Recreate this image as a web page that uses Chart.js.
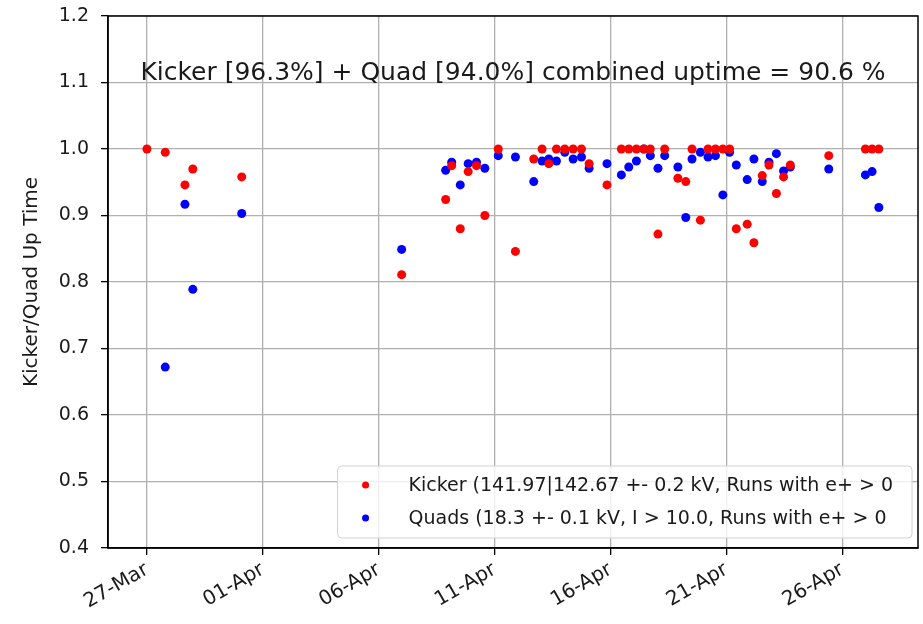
<!DOCTYPE html>
<html>
<head>
<meta charset="utf-8">
<script src="https://cdn.jsdelivr.net/npm/chart.js@4.4.1/dist/chart.umd.min.js"></script>
<style>
  html, body { margin: 0; padding: 0; background: #fff; }
  #wrap { width: 923px; height: 624px; position: relative; }
</style>
</head>
<body>
<div id="wrap"><canvas id="c" width="923" height="624"></canvas></div>
<script>
// ---- data (days counted from 27-Mar) ----
const tickDays = [0, 5, 10, 15, 20, 25, 30];
const tickLabels = ['27-Mar', '01-Apr', '06-Apr', '11-Apr', '16-Apr', '21-Apr', '26-Apr'];
const yTicks = [0.4, 0.5, 0.6, 0.7, 0.8, 0.9, 1.0, 1.1, 1.2];

const kickerDays = [0, 0.79, 1.64, 1.98, 4.09, 10.99, 12.89, 13.15, 13.52, 13.86, 14.22, 14.58, 15.16, 15.90,
  16.69, 17.05, 17.34, 17.67, 18.03, 18.39, 18.75, 19.08, 19.85, 20.47, 20.79, 21.12, 21.44, 21.72, 22.05,
  22.34, 22.91, 23.25, 23.52, 23.88, 24.21, 24.53, 24.85, 25.14, 25.43, 25.90, 26.19, 26.55, 26.84, 27.16,
  27.47, 27.76, 29.42, 31.00, 31.29, 31.58];
const kickerUptime = [1.0, 0.995, 0.946, 0.970, 0.958, 0.811, 0.924, 0.975, 0.880, 0.966, 0.975, 0.900, 1.0, 0.846,
  0.985, 1.0, 0.978, 1.0, 1.0, 1.0, 1.0, 0.978, 0.946, 1.0, 1.0, 1.0, 1.0, 1.0, 0.872,
  1.0, 0.956, 0.951, 1.0, 0.893, 1.0, 1.0, 1.0, 1.0, 0.880, 0.887, 0.859, 0.960, 0.976, 0.933,
  0.958, 0.976, 0.990, 1.0, 1.0, 1.0];

const quadDays = [0.79, 1.64, 1.98, 4.09, 10.99, 12.89, 13.15, 13.52, 13.86, 14.22, 14.58, 15.16, 15.90,
  16.69, 17.05, 17.34, 17.67, 18.03, 18.39, 18.75, 19.08, 19.85, 20.47, 20.79, 21.12, 21.44, 21.72, 22.05,
  22.34, 22.91, 23.25, 23.52, 23.88, 24.21, 24.53, 24.85, 25.14, 25.43, 25.90, 26.19, 26.55, 26.84, 27.16,
  27.47, 27.76, 29.42, 31.00, 31.29, 31.58];
const quadUptime = [0.672, 0.917, 0.789, 0.903, 0.849, 0.968, 0.980, 0.946, 0.978, 0.980, 0.971, 0.990, 0.988,
  0.951, 0.982, 0.985, 0.982, 0.995, 0.985, 0.988, 0.971, 0.978, 0.961, 0.973, 0.982, 1.0, 0.990, 0.971,
  0.990, 0.973, 0.897, 0.985, 0.995, 0.988, 0.990, 0.931, 0.995, 0.976, 0.954, 0.985, 0.951, 0.980, 0.993,
  0.967, 0.973, 0.970, 0.961, 0.966, 0.912];

const seriesLabels = [
  'Kicker (141.97|142.67 +- 0.2 kV, Runs with e+ > 0',
  'Quads (18.3 +- 0.1 kV, I > 10.0, Runs with e+ > 0'
];
const seriesColors = ['#ff0000', '#0000ff'];
const annotationText = 'Kicker [96.3%] + Quad [94.0%] combined uptime = 90.6 %';
const annotationLevel = 1.113;
const yTitle = 'Kicker/Quad Up Time';

const FONT = '"DejaVu Sans", sans-serif';
const TEXT = '#1a1a1a';

function toPoints(xs, ys) { return xs.map((x, i) => ({ x: x, y: ys[i] })); }

const overlay = {
  id: 'overlay',
  afterDraw(chart) {
    const ctx = chart.ctx;
    const a = chart.chartArea;
    // frame
    ctx.save();
    ctx.strokeStyle = '#000';
    ctx.lineWidth = 1.5;
    ctx.strokeRect(a.left, a.top, a.right - a.left, a.bottom - a.top);
    // annotation
    ctx.fillStyle = TEXT;
    ctx.font = '25px ' + FONT;
    ctx.textAlign = 'center';
    ctx.textBaseline = 'middle';
    ctx.fillText(annotationText, (a.left + a.right) / 2, chart.scales.y.getPixelForValue(annotationLevel));
    // legend
    ctx.font = '19px ' + FONT;
    const maxW = Math.max(...seriesLabels.map(t => ctx.measureText(t).width));
    const right = a.right - 6;
    const left = right - (71 + maxW + 19);
    const bottom = a.bottom - 10;
    const top = bottom - 72;
    ctx.beginPath();
    ctx.roundRect(left, top, right - left, bottom - top, 4);
    ctx.fillStyle = 'rgba(255,255,255,0.8)';
    ctx.fill();
    ctx.strokeStyle = '#d0d0d0';
    ctx.lineWidth = 1;
    ctx.stroke();
    seriesLabels.forEach((t, i) => {
      const cy = top + 19 + i * 33;
      ctx.beginPath();
      ctx.arc(left + 28, cy, 3.5, 0, Math.PI * 2);
      ctx.fillStyle = seriesColors[i];
      ctx.fill();
      ctx.fillStyle = TEXT;
      ctx.textAlign = 'left';
      ctx.textBaseline = 'middle';
      ctx.fillText(t, left + 71, cy + 1);
    });
    ctx.restore();
  }
};

new Chart(document.getElementById('c'), {
  type: 'scatter',
  data: {
    datasets: [
      { label: seriesLabels[0], data: toPoints(kickerDays, kickerUptime), backgroundColor: seriesColors[0],
        borderColor: seriesColors[0], pointRadius: 4.5, pointBorderWidth: 0, pointHoverRadius: 4.5 },
      { label: seriesLabels[1], data: toPoints(quadDays, quadUptime), backgroundColor: seriesColors[1],
        borderColor: seriesColors[1], pointRadius: 4.5, pointBorderWidth: 0, pointHoverRadius: 4.5 }
    ]
  },
  options: {
    responsive: false,
    animation: false,
    events: [],
    layout: { padding: { top: 16, right: 5, left: 0, bottom: 0 } },
    plugins: { legend: { display: false }, tooltip: { enabled: false } },
    scales: {
      x: {
        type: 'linear',
        min: -1.68,
        max: 33.27,
        afterBuildTicks(scale) { scale.ticks = tickDays.map(v => ({ value: v })); },
        afterFit(scale) { scale.height = 76; scale.paddingLeft = 0; scale.paddingRight = 0; },
        ticks: {
          minRotation: 30, maxRotation: 30,
          padding: 3,
          color: TEXT,
          font: { family: FONT, size: 20 },
          callback(v) { const i = tickDays.indexOf(v); return i >= 0 ? tickLabels[i] : ''; }
        },
        grid: { color: '#b0b0b0', lineWidth: 1.3, tickLength: 7, tickColor: '#000', tickWidth: 1.3 },
        border: { color: '#000', width: 1.5 }
      },
      y: {
        type: 'linear',
        min: 0.4,
        max: 1.2,
        afterBuildTicks(scale) { scale.ticks = yTicks.map(v => ({ value: v })); },
        afterFit(scale) { scale.width = 108; scale.paddingTop = 0; scale.paddingBottom = 0; },
        title: { display: true, text: yTitle, color: TEXT, font: { family: FONT, size: 20 }, padding: { top: 20, bottom: 0 } },
        ticks: {
          padding: 12,
          color: TEXT,
          font: { family: FONT, size: 19 },
          callback(v) { return Number(v).toFixed(1); }
        },
        grid: { color: '#b0b0b0', lineWidth: 1.3, tickLength: 7, tickColor: '#000', tickWidth: 1.3 },
        border: { color: '#000', width: 1.5 }
      }
    }
  },
  plugins: [overlay]
});
</script>
</body>
</html>
